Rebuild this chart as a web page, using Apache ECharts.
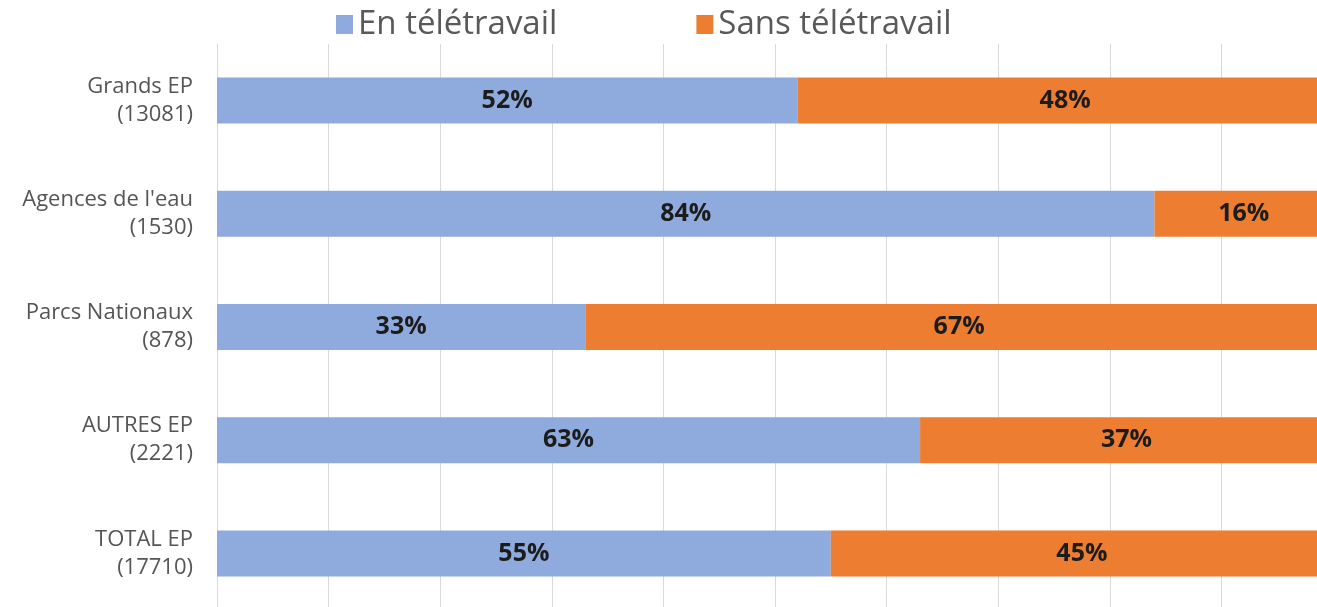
<!DOCTYPE html>
<html>
<head>
<meta charset="utf-8">
<script src="https://cdn.jsdelivr.net/npm/echarts@6/dist/echarts.min.js"></script>
<style>html,body{margin:0;padding:0;background:#fff}#c{width:1317px;height:607px}</style>
</head>
<body>
<div id="c"></div>
<script>
const categories = ["Grands EP\n(13081)", "Agences de l'eau\n(1530)", "Parcs Nationaux\n(878)", "AUTRES EP\n(2221)", "TOTAL EP\n(17710)"];
const seriesNames = ["En télétravail", "Sans télétravail"];
const avecTeletravail = [52, 84, 33, 63, 55];
const sansTeletravail = [48, 16, 67, 37, 45];

const chart = echarts.init(document.getElementById('c'));
const labelStyle = {show: true, position: 'inside', formatter: '{c}%', fontFamily: 'Open Sans', fontWeight: 'bold', fontSize: 25, color: '#1c1c1c'};
chart.setOption({
  animation: false,
  legend: {
    top: 3, left: 331,
    itemWidth: 17, itemHeight: 19, itemGap: 139,
    icon: 'rect',
    textStyle: {fontFamily: 'Open Sans', fontSize: 33, color: '#595959'},
    data: seriesNames
  },
  grid: {left: 217, top: 44, width: 1116, height: 566, outerBoundsMode: 'none', containLabel: false},
  xAxis: {
    type: 'value', min: 0, max: 100, interval: 10,
    axisLabel: {show: false}, axisLine: {show: false}, axisTick: {show: false},
    splitLine: {lineStyle: {color: '#d9d9d9', width: 1}}
  },
  yAxis: {
    type: 'category', inverse: true, data: categories,
    axisLine: {show: true, lineStyle: {color: '#d9d9d9'}}, axisTick: {show: false},
    axisLabel: {fontFamily: 'Open Sans', fontSize: 22, color: '#555555', lineHeight: 28, margin: 24, align: 'right'}
  },
  series: [
    {name: seriesNames[0], type: 'bar', stack: 'a', data: avecTeletravail, barWidth: 46, itemStyle: {color: '#8faadc'}, label: labelStyle},
    {name: seriesNames[1], type: 'bar', stack: 'a', data: sansTeletravail, barWidth: 46, itemStyle: {color: '#ed7d31'}, label: labelStyle}
  ]
});
</script>
</body>
</html>
